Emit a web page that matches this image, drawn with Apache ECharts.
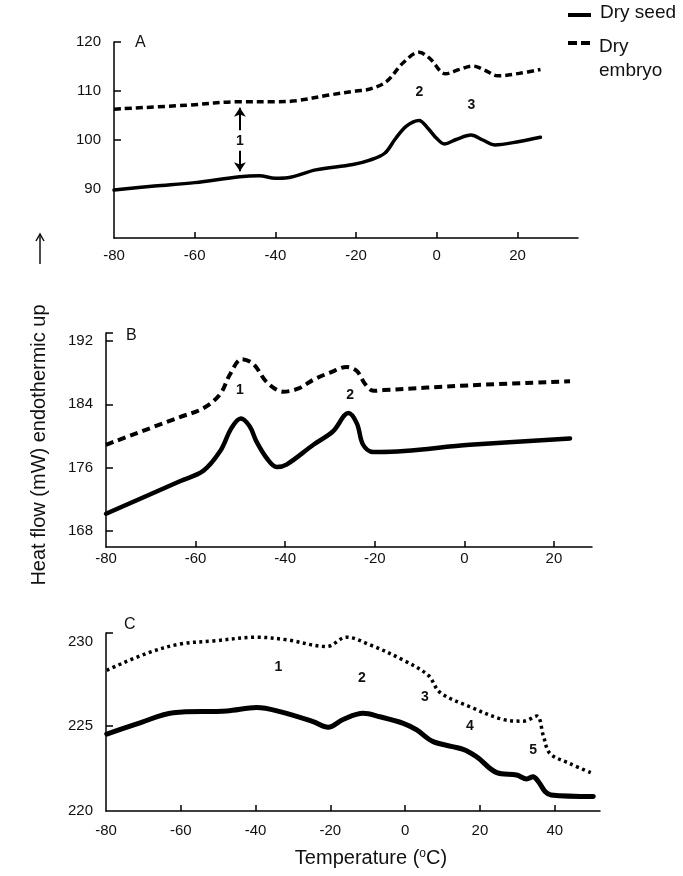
<!DOCTYPE html>
<html><head><meta charset="utf-8">
<script src="https://cdn.jsdelivr.net/npm/echarts@6/dist/echarts.min.js"></script>
<style>html,body{margin:0;padding:0;background:#fff}#c{width:683px;height:876px}</style>
</head><body><div id="c"></div>
<script>
const FONT = '"Liberation Sans", Arial, Helvetica, sans-serif';

// ---------- Panel A ----------
const aSeedT = [-80,-70,-60,-48.8,-44,-40,-37,-30,-20.8,-16.6,-12.9,-10.3,-7.6,-4.4,-2.2,0,1.9,4.8,8.5,11.4,14.3,20.5,25.7];
const aSeedV = [89.8,90.6,91.3,92.5,92.7,92.2,92.3,93.9,95.0,95.9,97.3,100.2,102.8,104.0,102.4,100.3,99.2,100.1,101.0,100.0,99.0,99.7,100.55];
const aEmbT = [-80,-62,-48.8,-40,-35,-26.5,-20,-16.6,-12.5,-8.4,-4.4,-1.8,2.2,5.6,8.9,11.8,15.1,20.5,25.7];
const aEmbV = [106.3,107.1,107.8,107.8,108.0,109.2,110.0,110.4,111.9,115.7,117.9,116.7,113.5,114.4,115.1,114.3,113.1,113.6,114.4];
const aYTicks = [90,100,110,120];
const aXTicks = [-60,-40,-20,0,20];
const aXLabels = [-80,-60,-40,-20,0,20];
const aNotes = [{n:'1',t:-48.8,v:99.8},{n:'2',t:-4.3,v:109.8},{n:'3',t:8.6,v:107.1}];

// ---------- Panel B ----------
const bSeedT = [-80,-63.5,-58.3,-54.5,-52,-49.9,-47.9,-46.4,-44.1,-41.9,-39.7,-33.7,-29.3,-25.9,-24,-22.6,-20.4,-18.8,1.25,23.6];
const bSeedV = [170.2,174.3,175.6,178.1,181.0,182.2,181.2,179.3,177.2,176.1,176.4,178.9,180.6,182.9,181.6,178.9,178.0,178.0,178.9,179.7];
const bEmbT = [-80,-63.5,-58.3,-54.5,-52.3,-49.7,-47.1,-44.1,-40.4,-37,-33.7,-30,-26.3,-24,-22.2,-20.3,-18,1.25,23.6];
const bEmbV = [178.9,182.4,183.5,185.3,187.8,189.7,189.1,186.8,185.6,186.0,187.1,188.0,188.7,188.2,186.6,185.7,185.8,186.4,186.9];
const bYTicks = [168,176,184,192];
const bXTicks = [-60,-40,-20,0,20];
const bXLabels = [-80,-60,-40,-20,0,20];
const bNotes = [{n:'1',t:-50.1,v:185.8},{n:'2',t:-25.5,v:185.2}];

// ---------- Panel C ----------
const cSeedT = [-79.8,-70.9,-62,-47.7,-39.7,-33.5,-24.6,-20.6,-16.6,-11.2,-6.8,-0.5,3.1,7.5,15.5,19.1,24.5,29.8,32.5,34.2,35.6,37.4,39,50.3];
const cSeedV = [224.54,225.2,225.8,225.9,226.1,225.86,225.27,224.94,225.4,225.76,225.56,225.17,224.78,224.09,223.64,223.2,222.26,222.12,221.89,222.02,221.74,221.15,220.95,220.86];
const cEmbT = [-79.8,-69.1,-60.2,-51.3,-39.7,-31.7,-21,-15.7,-9.4,-0.5,6.2,9.3,17.3,26.2,31.6,35.2,37,38.7,44,50.3];
const cEmbV = [228.3,229.3,229.85,230.03,230.25,230.1,229.7,230.25,229.8,228.9,228.0,227.0,226.15,225.4,225.3,225.6,224.4,223.4,222.8,222.2];
const cYTicks = [220,225,230];
const cXTicks = [-60,-40,-20,0,20,40];
const cXLabels = [-80,-60,-40,-20,0,20,40];
const cNotes = [{n:'1',t:-33.9,v:228.5},{n:'2',t:-11.6,v:227.86},{n:'3',t:5.3,v:226.7},{n:'4',t:17.3,v:225.0},{n:'5',t:34.25,v:223.6}];

const zip = (t, v) => t.map((x, i) => [x, v[i]]);

function xAx(gi, min, max, ticks, labels, margin) {
  return {
    type: 'value', gridIndex: gi, min: min, max: max,
    axisLine: {show: true, onZero: false, lineStyle: {color: '#000', width: 1.5}},
    axisTick: {show: true, inside: true, length: 6, customValues: ticks, lineStyle: {color: '#000', width: 1.5}},
    axisLabel: {customValues: labels, color: '#111', fontSize: 15, fontFamily: FONT, margin: margin},
    splitLine: {show: false}
  };
}
function yAx(gi, min, max, ticks, labels, margin) {
  return {
    type: 'value', gridIndex: gi, min: min, max: max,
    axisLine: {show: true, onZero: false, lineStyle: {color: '#000', width: 1.5}},
    axisTick: {show: true, inside: true, length: 7, customValues: ticks, lineStyle: {color: '#000', width: 1.5}},
    axisLabel: {customValues: labels, color: '#111', fontSize: 15, fontFamily: FONT, margin: margin},
    splitLine: {show: false}
  };
}
function notes(arr) {
  return {
    silent: true, symbol: 'circle', symbolSize: 1,
    itemStyle: {color: 'rgba(0,0,0,0)'},
    label: {show: true, position: 'inside', formatter: '{b}', color: '#111', fontSize: 14, fontWeight: 'bold', fontFamily: FONT},
    data: arr.map(o => ({name: o.n, coord: [o.t, o.v]}))
  };
}
function seedSeries(i, data, w) {
  return {type: 'line', name: 'Dry seed', xAxisIndex: i, yAxisIndex: i, data: data, smooth: 0.35,
    symbol: 'none', lineStyle: {color: '#000', width: w, cap: 'round'}, z: 3};
}
function embSeries(i, data, w, dash, extra) {
  return Object.assign({type: 'line', name: 'Dry embryo', xAxisIndex: i, yAxisIndex: i, data: data, smooth: 0.35,
    symbol: 'none', lineStyle: {color: '#000', width: w, type: dash}, z: 3}, extra || {});
}

const chart = echarts.init(document.getElementById('c'), null, {renderer: 'canvas'});
chart.setOption({
  animation: false,
  backgroundColor: '#fff',
  grid: [
    {left: 114, top: 42, width: 464, height: 196},
    {left: 106, top: 333, width: 486, height: 214},
    {left: 106, top: 633, width: 494, height: 178}
  ],
  xAxis: [
    xAx(0, -80, 35, aXTicks, aXLabels, 10),
    xAx(1, -80, 28.5, bXTicks, bXLabels, 4),
    xAx(2, -80, 52.1, cXTicks, cXLabels, 12)
  ],
  yAxis: [
    yAx(0, 80, 120, [90,100,110,120], aYTicks, 13),
    yAx(1, 166, 193, [168,176,184,192,193], bYTicks, 13),
    yAx(2, 220, 230.5, [225,230.5], cYTicks, 13)
  ],
  series: [
    seedSeries(0, zip(aSeedT, aSeedV), 3.5),
    embSeries(0, zip(aEmbT, aEmbV), 3.5, [7, 4], {
      markPoint: notes(aNotes),
      markLine: {
        silent: true, symbol: ['none', 'arrow'], symbolSize: 9,
        lineStyle: {color: '#000', width: 2, type: 'solid'}, label: {show: false},
        data: [
          [{coord: [aNotes[0].t, 102.0]}, {coord: [aNotes[0].t, 106.6]}],
          [{coord: [aNotes[0].t, 97.8]}, {coord: [aNotes[0].t, 93.6]}]
        ]
      }
    }),
    seedSeries(1, zip(bSeedT, bSeedV), 4.5),
    embSeries(1, zip(bEmbT, bEmbV), 4, [8, 5], {markPoint: notes(bNotes)}),
    seedSeries(2, zip(cSeedT, cSeedV), 5),
    embSeries(2, zip(cEmbT, cEmbV), 3.5, [3, 3.5], {markPoint: notes(cNotes)})
  ],
  graphic: [
    {type: 'text', style: {text: 'A', x: 135, y: 43, font: '16px ' + FONT, fill: '#111', verticalAlign: 'middle'}},
    {type: 'text', style: {text: 'B', x: 126, y: 336, font: '16px ' + FONT, fill: '#111', verticalAlign: 'middle'}},
    {type: 'text', style: {text: 'C', x: 124, y: 625, font: '16px ' + FONT, fill: '#111', verticalAlign: 'middle'}},
    {type: 'text', x: 39, y: 445, rotation: Math.PI / 2,
      style: {text: 'Heat flow (mW) endothermic up', font: '20px ' + FONT, fill: '#111', align: 'center', verticalAlign: 'middle'}},
    {type: 'line', shape: {x1: 40, y1: 264, x2: 40, y2: 234}, style: {stroke: '#111', lineWidth: 1.5}},
    {type: 'polyline', shape: {points: [[36, 241], [40, 234], [44, 241]]}, style: {stroke: '#111', lineWidth: 1.5, fill: null}},
    {type: 'text', style: {text: 'Temperature ({s|o}C)', x: 371, y: 858, font: '20px ' + FONT, fill: '#111', align: 'center', verticalAlign: 'middle',
      rich: {s: {fontSize: 12, fontFamily: FONT, verticalAlign: 'top', fill: '#111'}}}},
    {type: 'line', shape: {x1: 568, y1: 15, x2: 591, y2: 15}, style: {stroke: '#000', lineWidth: 4}},
    {type: 'text', style: {text: 'Dry seed', x: 600, y: 13, font: '19px ' + FONT, fill: '#111', verticalAlign: 'middle'}},
    {type: 'line', shape: {x1: 568, y1: 43, x2: 591, y2: 43}, style: {stroke: '#000', lineWidth: 4, lineDash: [9, 4]}},
    {type: 'text', style: {text: 'Dry', x: 599, y: 47, font: '19px ' + FONT, fill: '#111', verticalAlign: 'middle'}},
    {type: 'text', style: {text: 'embryo', x: 599, y: 71, font: '19px ' + FONT, fill: '#111', verticalAlign: 'middle'}}
  ]
});
</script></body></html>
